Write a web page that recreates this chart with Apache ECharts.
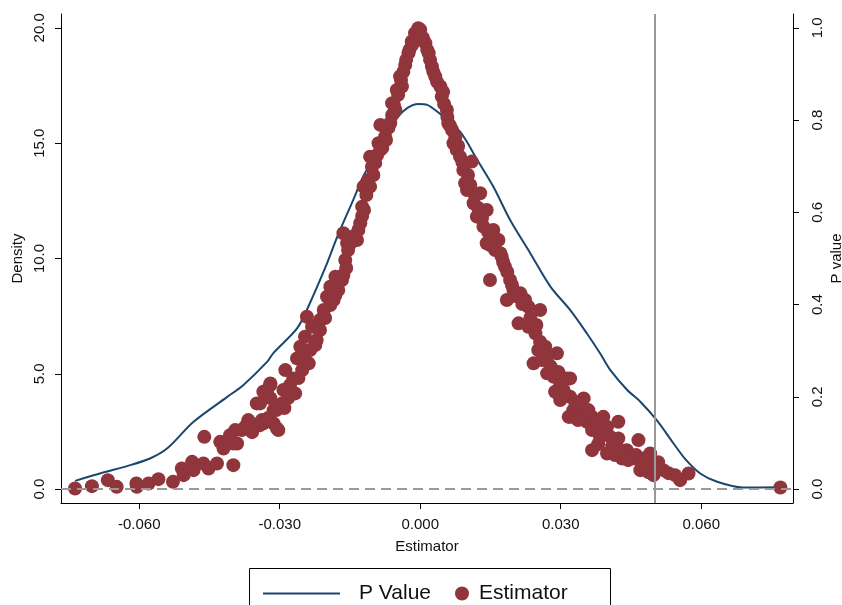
<!DOCTYPE html>
<html>
<head>
<meta charset="utf-8">
<script src="https://cdn.jsdelivr.net/npm/echarts@6/dist/echarts.min.js"></script>
<style>
  html, body { margin: 0; padding: 0; background: #fff; }
  #chart { width: 842px; height: 605px; }
</style>
</head>
<body>
<div id="chart"></div>
<script>
// kernel density of the estimator (left axis)
const densityX = [-0.0737, -0.0677, -0.0626, -0.0577, -0.0540, -0.0484, -0.0412, -0.0378, -0.0327, -0.0314,
  -0.0263, -0.0239, -0.0199, -0.0177, -0.0143, -0.0122, -0.0085, -0.0050, -0.0028, -0.0004,
  0.0015, 0.0036, 0.0085, 0.0122, 0.0156, 0.0192, 0.0235, 0.0278, 0.0320, 0.0356,
  0.0384, 0.0406, 0.0442, 0.0470, 0.0505, 0.0541, 0.0566, 0.0598, 0.0634, 0.0689, 0.0769];
const densityY = [0.36, 0.72, 1.00, 1.33, 1.77, 2.92, 4.00, 4.51, 5.52, 5.89,
  6.97, 7.91, 9.79, 10.95, 12.54, 13.55, 14.85, 16.08, 16.52, 16.70,
  16.66, 16.37, 15.50, 14.27, 13.12, 11.67, 10.23, 8.78, 7.77, 6.75,
  5.89, 5.16, 4.30, 3.79, 2.99, 1.98, 1.30, 0.68, 0.32, 0.07, 0.08];

// estimator vs p value (right axis), left arm
const leftX = [-0.0737, -0.0701, -0.0667, -0.0648, -0.0606, -0.0605, -0.0580, -0.0559, -0.0528, -0.0509,
  -0.0505, -0.0487, -0.0484, -0.0463, -0.0461, -0.0452, -0.0434, -0.0427, -0.0420, -0.0406,
  -0.0399, -0.0391, -0.0381, -0.0370, -0.0349, -0.0338, -0.0335, -0.0320, -0.0313, -0.0306,
  -0.0299, -0.0395, -0.0374, -0.0399, -0.0342, -0.0335, -0.0327, -0.0320, -0.0313, -0.0303,
  -0.0295, -0.0292, -0.0288, -0.0271, -0.0267, -0.0263, -0.0256, -0.0246, -0.0238, -0.0242,
  -0.0231, -0.0214, -0.0221, -0.0206, -0.0199, -0.0185, -0.0192, -0.0181, -0.0167, -0.0160,
  -0.0156, -0.0164, -0.0149, -0.0135, -0.0128, -0.0124, -0.0121, -0.0107, -0.0103, -0.0107,
  -0.0085, -0.0089, -0.0085, -0.0075, -0.0064, -0.0060, -0.0053, -0.0050, -0.0043, -0.0039,
  -0.0032, -0.0025, -0.0018, -0.0011, -0.0004, 0.0000,
  -0.0017, -0.0023, -0.0030, -0.0036, -0.0041, -0.0047, -0.0056, -0.0060, -0.0068, -0.0073,
  -0.0081, -0.0092, -0.0096, -0.0100, -0.0111, -0.0115, -0.0120, -0.0124, -0.0132, -0.0141,
  -0.0154, -0.0158, -0.0164, -0.0175, -0.0181, -0.0192, -0.0203, -0.0214, -0.0224, -0.0235,
  -0.0250, -0.0252, -0.0260, -0.0278, -0.0282, -0.0290, -0.0307, -0.0320, -0.0325, -0.0342,
  -0.0359, -0.0367];
const leftP = [0.0015, 0.0065, 0.0195, 0.005, 0.0124, 0.005, 0.0124, 0.0217, 0.0158, 0.0449,
  0.0304, 0.0592, 0.0412, 0.0557, 0.1134, 0.0449, 0.0557, 0.1026, 0.0883, 0.1171,
  0.0521, 0.0991, 0.128, 0.1388, 0.1859, 0.1497, 0.2111, 0.2256, 0.1425, 0.1317,
  0.1785, 0.128, 0.1351, 0.0991, 0.1859, 0.1425, 0.2148, 0.2293, 0.1714, 0.128,
  0.1859, 0.2148, 0.2581, 0.2401, 0.2076, 0.2835, 0.3087, 0.3304, 0.2727, 0.3738,
  0.3521, 0.3666, 0.3232, 0.3883, 0.4171, 0.41, 0.4388, 0.4605, 0.4534, 0.4967,
  0.533, 0.5547, 0.533, 0.5401, 0.5764, 0.6124, 0.6557, 0.6557, 0.6991, 0.7208,
  0.7354, 0.7499, 0.7896, 0.7642, 0.7933, 0.8367, 0.8221, 0.8655, 0.8944, 0.8727,
  0.9197, 0.9451, 0.9703, 0.9885, 0.9993, 0.9957,
  0.9631, 0.9523, 0.9306, 0.9046, 0.8872, 0.8547, 0.833, 0.8113, 0.7831, 0.757,
  0.7397, 0.7245, 0.7072, 0.6811, 0.6703, 0.6377, 0.6052, 0.5922, 0.5618, 0.5488,
  0.5184, 0.4794, 0.4642, 0.4317, 0.4208, 0.3991, 0.3709, 0.3449, 0.3124, 0.3015,
  0.2885, 0.2581, 0.2408, 0.2256, 0.1974, 0.1757, 0.1714, 0.1974, 0.154, 0.1388,
  0.1236, 0.1497];

// right arm
const rightX = [0.0011, 0.0018, 0.0025, 0.0032, 0.0043, 0.0046, 0.0057, 0.0060, 0.0068, 0.0071,
  0.0078, 0.0085, 0.0110, 0.0092, 0.0096, 0.0100, 0.0128, 0.0114, 0.0142, 0.0121,
  0.0135, 0.0156, 0.0142, 0.0167, 0.0174, 0.0181, 0.0164, 0.0171, 0.0149, 0.0192,
  0.0199, 0.0185, 0.0214, 0.0224, 0.0231, 0.0256, 0.0210, 0.0231, 0.0246, 0.0256,
  0.0267, 0.0292, 0.0242, 0.0260, 0.0271, 0.0285, 0.0306, 0.0320, 0.0288, 0.0299,
  0.0320, 0.0349, 0.0327, 0.0320, 0.0349, 0.0367, 0.0313, 0.0306, 0.0317, 0.0335,
  0.0349, 0.0356, 0.0367, 0.0391, 0.0399, 0.0423, 0.0384, 0.0406, 0.0423, 0.0367,
  0.0399, 0.0416, 0.0431, 0.0441, 0.0466, 0.0452, 0.0473, 0.0491, 0.0495, 0.0498,
  0.0519, 0.0544, 0.0555, 0.0573, 0.0769,
  0.0006, 0.0015, 0.0021, 0.0028, 0.0036, 0.0049, 0.0051, 0.0058, 0.0064, 0.0075,
  0.0081, 0.0090, 0.0102, 0.0107, 0.0117, 0.0124, 0.0132, 0.0145, 0.0149, 0.0160,
  0.0177, 0.0186, 0.0196, 0.0203, 0.0218, 0.0235, 0.0248, 0.0252, 0.0273, 0.0278,
  0.0295, 0.0299, 0.0312, 0.0331, 0.0337, 0.0359, 0.0376, 0.0380, 0.0410, 0.0427,
  0.0444, 0.0461, 0.0480, 0.0470, 0.0487, 0.0508, 0.0530];
const rightP = [0.9668, 0.9451, 0.9161, 0.8944, 0.8727, 0.851, 0.8221, 0.7933, 0.7787, 0.7499,
  0.7354, 0.7208, 0.71, 0.692, 0.6631, 0.6486, 0.6414, 0.6197, 0.6052, 0.5907,
  0.569, 0.5618, 0.533, 0.5401, 0.5039, 0.4822, 0.5401, 0.5113, 0.4534, 0.4534,
  0.4317, 0.41, 0.4245, 0.41, 0.3954, 0.3883, 0.3594, 0.3521, 0.3377, 0.3195,
  0.3087, 0.2944, 0.2727, 0.2798, 0.251, 0.2436, 0.2364, 0.2401, 0.2111, 0.1931,
  0.2002, 0.1967, 0.1714, 0.1568, 0.1642, 0.1568, 0.2401, 0.2148, 0.1568, 0.1568,
  0.1714, 0.146, 0.128, 0.1568, 0.1351, 0.146, 0.1134, 0.1134, 0.11, 0.0846,
  0.0774, 0.0738, 0.0666, 0.0846, 0.1063, 0.0666, 0.0521, 0.0774, 0.0557, 0.0304,
  0.0412, 0.0304, 0.0195, 0.0341, 0.0037,
  0.9783, 0.9523, 0.9306, 0.9046, 0.8829, 0.8612, 0.8351, 0.8069, 0.7874, 0.7636,
  0.744, 0.7093, 0.6811, 0.6594, 0.6377, 0.6095, 0.5879, 0.5575, 0.5293, 0.5184,
  0.4924, 0.4707, 0.4425, 0.4187, 0.4013, 0.3709, 0.3557, 0.3015, 0.2907, 0.2668,
  0.2538, 0.2256, 0.2039, 0.1887, 0.1497, 0.1714, 0.1388, 0.0976, 0.0933, 0.0846,
  0.0629, 0.0738, 0.0672, 0.0412, 0.0369, 0.0586, 0.0347];

const xTicks = [-0.06, -0.03, 0, 0.03, 0.06];
const densityTicks = [0, 5, 10, 15, 20];
const pTicks = [0, 0.2, 0.4, 0.6, 0.8, 1];
const cutoff = 0.0508;

let myChart = echarts.init(document.getElementById("chart"));
let font = "Liberation Sans, Arial, sans-serif";
let axisLine = { show: true, onZero: false, lineStyle: { color: "#000", width: 1 } };
let tickStyle = { show: true, length: 6, lineStyle: { color: "#000" } };

let option = {
  animation: false,
  backgroundColor: "#fff",
  grid: { left: 61, right: 49, top: 14, bottom: 102, outerBoundsMode: "none" },
  xAxis: {
    type: "value",
    min: -0.0767,
    max: 0.0796,
    name: "Estimator",
    nameLocation: "middle",
    nameGap: 36,
    nameMoveOverlap: false,
    nameTextStyle: { color: "#111", fontSize: 15, fontFamily: font },
    axisLine: axisLine,
    axisTick: Object.assign({ customValues: xTicks }, tickStyle),
    axisLabel: {
      customValues: xTicks,
      formatter: v => v.toFixed(3),
      color: "#111", fontSize: 15, fontFamily: font, margin: 14
    },
    splitLine: { show: false }
  },
  yAxis: [
    {
      type: "value",
      position: "left",
      min: -0.6,
      max: 20.6,
      name: "Density",
      nameLocation: "middle",
      nameRotate: 90,
      nameGap: 36,
      nameMoveOverlap: false,
      nameTextStyle: { color: "#111", fontSize: 15, fontFamily: font },
      axisLine: axisLine,
      axisTick: Object.assign({ customValues: densityTicks }, tickStyle),
      axisLabel: {
        customValues: densityTicks,
        rotate: 90,
        formatter: v => v.toFixed(1),
        color: "#111", fontSize: 15, fontFamily: font, margin: 14
      },
      splitLine: { show: false }
    },
    {
      type: "value",
      position: "right",
      min: -0.03,
      max: 1.03,
      name: "P value",
      nameLocation: "middle",
      nameRotate: 90,
      nameGap: 36,
      nameMoveOverlap: false,
      nameTextStyle: { color: "#111", fontSize: 15, fontFamily: font },
      axisLine: axisLine,
      axisTick: Object.assign({ customValues: pTicks }, tickStyle),
      axisLabel: {
        customValues: pTicks,
        rotate: 90,
        formatter: v => v.toFixed(1),
        color: "#111", fontSize: 15, fontFamily: font, margin: 17
      },
      splitLine: { show: false }
    }
  ],
  legend: [
    {
      left: 258, top: 578,
      itemWidth: 77, itemHeight: 2,
      textStyle: { color: "#111", fontSize: 21, fontFamily: font, padding: [0, 0, 0, 14] },
      data: [{ name: "P Value", icon: "rect" }]
    },
    {
      left: 450, top: 578,
      itemWidth: 14, itemHeight: 14,
      textStyle: { color: "#111", fontSize: 21, fontFamily: font, padding: [0, 0, 0, 5] },
      data: [{ name: "Estimator", icon: "circle" }]
    }
  ],
  graphic: [
    {
      type: "rect",
      shape: { x: 249.5, y: 568.5, width: 361, height: 60 },
      style: { fill: "none", stroke: "#000", lineWidth: 1 },
      silent: true
    }
  ],
  series: [
    {
      name: "P Value",
      type: "line",
      yAxisIndex: 0,
      data: densityX.map((x, i) => [x, densityY[i]]),
      smooth: 0.3,
      showSymbol: false,
      symbol: "none",
      color: "#1a476f",
      lineStyle: { width: 2, color: "#1a476f" },
      z: 3,
      markLine: {
        silent: true,
        symbol: "none",
        label: { show: false },
        data: [
          { yAxis: 0, lineStyle: { type: [10, 6], color: "#999", width: 2 } },
          { xAxis: cutoff, lineStyle: { type: "solid", color: "#999", width: 2 } }
        ]
      }
    },
    {
      name: "Estimator",
      type: "scatter",
      yAxisIndex: 1,
      data: leftX.map((x, i) => [x, leftP[i]]).concat(rightX.map((x, i) => [x, rightP[i]])),
      symbol: "circle",
      symbolSize: 14,
      color: "#90353b",
      itemStyle: { color: "#90353b", opacity: 1 },
      z: 4
    }
  ]
};
myChart.setOption(option);
</script>
</body>
</html>
